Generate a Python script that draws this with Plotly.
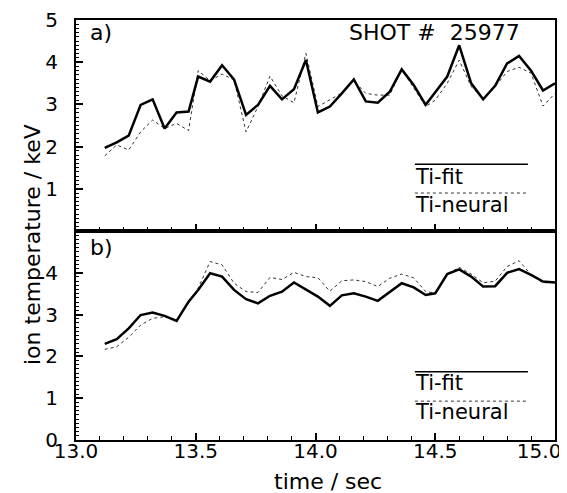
import plotly.graph_objects as go

time_s = [13.12, 13.17, 13.22, 13.27, 13.32, 13.37, 13.42, 13.47, 13.51, 13.56,
          13.61, 13.66, 13.71, 13.76, 13.81, 13.86, 13.91, 13.96, 14.01, 14.06,
          14.11, 14.16, 14.21, 14.26, 14.31, 14.36, 14.41, 14.46, 14.50, 14.55,
          14.60, 14.65, 14.70, 14.75, 14.80, 14.85, 14.90, 14.95, 15.00]

a_fit = [1.97, 2.10, 2.26, 2.99, 3.12, 2.43, 2.81, 2.83, 3.66, 3.54,
         3.93, 3.59, 2.75, 2.99, 3.44, 3.12, 3.36, 4.05, 2.81, 2.95,
         3.26, 3.59, 3.07, 3.04, 3.30, 3.83, 3.46, 2.99, 3.29, 3.66,
         4.40, 3.50, 3.12, 3.44, 3.97, 4.15, 3.80, 3.33, 3.50]
a_neural = [1.78, 2.04, 1.92, 2.35, 2.63, 2.43, 2.55, 2.38, 3.80, 3.56,
            3.72, 3.58, 2.35, 2.95, 3.67, 3.20, 3.04, 4.21, 2.95, 3.10,
            3.27, 3.56, 3.26, 3.22, 3.22, 3.83, 3.40, 2.95, 3.10, 3.50,
            4.05, 3.42, 3.14, 3.42, 3.78, 3.88, 3.74, 2.96, 3.26]

b_fit = [2.30, 2.41, 2.67, 2.99, 3.05, 2.97, 2.85, 3.31, 3.59, 3.99,
         3.91, 3.59, 3.37, 3.27, 3.45, 3.55, 3.77, 3.60, 3.43, 3.21,
         3.46, 3.51, 3.43, 3.33, 3.55, 3.75, 3.65, 3.47, 3.51, 3.97,
         4.08, 3.91, 3.67, 3.68, 4.00, 4.09, 3.95, 3.79, 3.77]
b_neural = [2.17, 2.23, 2.46, 2.75, 2.91, 2.95, 2.87, 3.27, 3.63, 4.27,
            4.19, 3.75, 3.55, 3.53, 3.89, 3.84, 4.01, 3.91, 3.88, 3.56,
            3.81, 3.83, 3.79, 3.67, 3.87, 3.97, 3.88, 3.55, 3.52, 3.97,
            4.13, 3.97, 3.76, 3.80, 4.15, 4.29, 3.95, 3.76, 3.77]

x_ticks = [13.0, 13.5, 14.0, 14.5, 15.0]
x_ticktext = ["13.0", "13.5", "14.0", "14.5", "15.0" + "\u00a0" * 5]
a_yticks = [1, 2, 3, 4, 5]
b_yticks = [0, 1, 2, 3, 4]

FONT = "DejaVu Sans"
BLACK = "#000000"

fig = go.Figure()
fig.add_trace(go.Scatter(x=time_s, y=a_neural, mode="lines", xaxis="x", yaxis="y",
                         line=dict(color="#333333", width=1, dash="dot"), showlegend=False))
fig.add_trace(go.Scatter(x=time_s, y=a_fit, mode="lines", xaxis="x", yaxis="y",
                         line=dict(color=BLACK, width=2.5), showlegend=False))
fig.add_trace(go.Scatter(x=time_s, y=b_neural, mode="lines", xaxis="x2", yaxis="y2",
                         line=dict(color="#333333", width=1, dash="dot"), showlegend=False))
fig.add_trace(go.Scatter(x=time_s, y=b_fit, mode="lines", xaxis="x2", yaxis="y2",
                         line=dict(color=BLACK, width=2.5), showlegend=False))

split = 0.4976

xcommon = dict(range=[13.0, 15.0], showgrid=False, zeroline=False, showline=True,
               linecolor=BLACK, linewidth=2, ticks="inside", ticklen=7, tickwidth=1.5,
               tickcolor=BLACK, tickvals=x_ticks, ticktext=x_ticktext, automargin=False,
               minor=dict(dtick=0.1, ticks="inside", ticklen=4, tickwidth=1, tickcolor=BLACK),
               mirror=True)
ycommon = dict(range=[0, 5], showgrid=False, zeroline=False, showline=True,
               linecolor=BLACK, linewidth=2, ticks="inside", ticklen=7, tickwidth=1.5,
               tickcolor=BLACK, mirror=True, ticklabelstandoff=12, automargin=False,
               minor=dict(dtick=0.1, ticks="inside", ticklen=3, tickwidth=1, tickcolor=BLACK),
               tickfont=dict(family=FONT, size=20, color=BLACK))

# the page body adds an 8px offset, so the figure is laid out 8px smaller
fig.update_layout(
    width=559, height=485,
    margin=dict(l=68, r=12, t=12, b=53),
    paper_bgcolor="white", plot_bgcolor="white",
    font=dict(family=FONT, size=20, color=BLACK),
    xaxis=dict(xcommon, anchor="y", showticklabels=False),
    yaxis=dict(ycommon, domain=[split, 1], anchor="x", tickvals=a_yticks),
    xaxis2=dict(xcommon, anchor="y2", showticklabels=True, ticklabelstandoff=-8,
                ticklabeloverflow="allow",
                tickfont=dict(family=FONT, size=20, color=BLACK)),
    yaxis2=dict(ycommon, domain=[0, split], anchor="x2", tickvals=b_yticks),
)

# Legend-like keys inside each panel
leg = [("x", "y", 1.58, 1.28, 0.90, 0.62), ("x2", "y2", 1.63, 1.36, 0.93, 0.67)]
for xr, yr, ysolid, ytxt1, ydot, ytxt2 in leg:
    fig.add_shape(type="line", xref=xr, yref=yr, x0=14.415, x1=14.887, y0=ysolid, y1=ysolid,
                  line=dict(color=BLACK, width=1.5))
    fig.add_shape(type="line", xref=xr, yref=yr, x0=14.415, x1=14.887, y0=ydot, y1=ydot,
                  line=dict(color="#333333", width=1, dash="dot"))
    fig.add_annotation(xref=xr, yref=yr, x=14.405, y=ytxt1, text="Ti-fit", showarrow=False,
                       xanchor="left", yanchor="middle", font=dict(family=FONT, size=21, color=BLACK))
    fig.add_annotation(xref=xr, yref=yr, x=14.405, y=ytxt2, text="Ti-neural", showarrow=False,
                       xanchor="left", yanchor="middle", font=dict(family=FONT, size=21, color=BLACK))

fig.add_annotation(xref="x domain", yref="y domain", x=0.025, y=0.94, text="a)", showarrow=False,
                   xanchor="left", yanchor="middle", font=dict(family=FONT, size=22, color=BLACK))
fig.add_annotation(xref="x2 domain", yref="y2 domain", x=0.025, y=0.92, text="b)", showarrow=False,
                   xanchor="left", yanchor="middle", font=dict(family=FONT, size=22, color=BLACK))
fig.add_annotation(xref="paper", yref="y domain", x=(522 - 76) / 479, y=0.94, text="SHOT #  25977",
                   showarrow=False, xanchor="right", yanchor="middle",
                   font=dict(family=FONT, size=22, color=BLACK))

fig.add_annotation(xref="paper", yref="paper", x=(32 - 76) / 479, y=(440 - 245) / 420,
                   text="ion temperature / keV", textangle=-90, showarrow=False,
                   xanchor="center", yanchor="middle", font=dict(family=FONT, size=22, color=BLACK))
fig.add_annotation(xref="paper", yref="paper", x=(328 - 76) / 479, y=(440 - 481) / 420,
                   text="time / sec", showarrow=False, xanchor="center", yanchor="middle",
                   font=dict(family=FONT, size=22, color=BLACK))

fig.write_html("out.html")
